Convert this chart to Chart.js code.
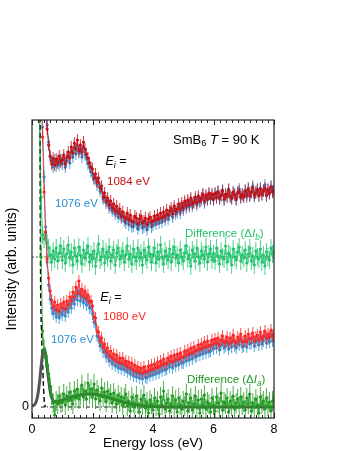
<!DOCTYPE html>
<html>
<head>
<meta charset="utf-8">
<script src="https://cdn.jsdelivr.net/npm/chart.js@4.4.1/dist/chart.umd.min.js"></script>
<style>
  html, body { margin: 0; padding: 0; background: #fff; }
</style>
</head>
<body>
<canvas id="rixs" width="349" height="451"></canvas>
<script>
// energy loss grid (eV)
const energy = [
  0.25, 0.3, 0.35, 0.4, 0.45, 0.5, 0.55, 0.6, 0.65, 0.7, 0.75, 0.8, 0.85, 0.9, 0.95,
  1, 1.05, 1.1, 1.15, 1.2, 1.25, 1.3, 1.35, 1.4, 1.45, 1.5, 1.55, 1.6, 1.65, 1.7, 1.75, 1.8, 1.85, 1.9, 1.95,
  2, 2.05, 2.1, 2.15, 2.2, 2.25, 2.3, 2.35, 2.4, 2.45, 2.5, 2.55, 2.6, 2.65, 2.7, 2.75, 2.8, 2.85, 2.9, 2.95,
  3, 3.05, 3.1, 3.15, 3.2, 3.25, 3.3, 3.35, 3.4, 3.45, 3.5, 3.55, 3.6, 3.65, 3.7, 3.75, 3.8, 3.85, 3.9, 3.95,
  4, 4.05, 4.1, 4.15, 4.2, 4.25, 4.3, 4.35, 4.4, 4.45, 4.5, 4.55, 4.6, 4.65, 4.7, 4.75, 4.8, 4.85, 4.9, 4.95,
  5, 5.05, 5.1, 5.15, 5.2, 5.25, 5.3, 5.35, 5.4, 5.45, 5.5, 5.55, 5.6, 5.65, 5.7, 5.75, 5.8, 5.85, 5.9, 5.95,
  6, 6.05, 6.1, 6.15, 6.2, 6.25, 6.3, 6.35, 6.4, 6.45, 6.5, 6.55, 6.6, 6.65, 6.7, 6.75, 6.8, 6.85, 6.9, 6.95,
  7, 7.05, 7.1, 7.15, 7.2, 7.25, 7.3, 7.35, 7.4, 7.45, 7.5, 7.55, 7.6, 7.65, 7.7, 7.75, 7.8, 7.85, 7.9, 7.95,
  8
];

// upper pair, Ei = 1084 eV and 1076 eV (offset spectra)
const ei1084 = [
  null, null, null, null, 31, 27.8, 26.2, 25.1, 24.3, 24.9, 24.2, 24.8, 24.4, 25.1, 24.5,
  24.7, 25.2, 24.3, 25.0, 25.5, 24.9, 26.0, 25.4, 26.4, 25.8, 26.7, 25.6, 26.2, 25.5, 26.5, 25.8, 25.3, 24.9, 24.4, 24.0,
  23.8, 22.9, 23.3, 22.5, 22.9, 21.9, 22.1, 21.0, 21.4, 20.6, 20.9, 20.2, 20.6, 19.9, 20.3, 19.6, 20.1, 19.4, 19.8, 19.1,
  19.5, 19.0, 18.8, 19.4, 18.7, 19.2, 18.6, 18.5, 19.1, 18.9, 18.3, 18.8, 19.1, 18.4, 18.6, 18.9, 18.2, 18.8, 19.0, 18.5,
  18.6, 19.1, 18.7, 19.2, 18.8, 19.4, 18.9, 19.5, 19.0, 19.7, 19.2, 19.6, 19.9, 19.3, 20.1, 19.6, 19.8, 20.3, 19.7, 20.4,
  19.9, 20.6, 20.1, 20.7, 20.2, 20.9, 20.3, 20.5, 21.0, 20.4, 21.1, 20.6, 20.9, 21.3, 20.6, 21.2, 20.8, 21.4, 20.9, 21.3,
  20.8, 21.4, 21.0, 21.5, 20.9, 21.2, 21.6, 20.8, 21.3, 21.0, 21.7, 21.1, 20.9, 21.5, 21.2, 20.8, 21.4, 21.6, 21.0, 21.3,
  21.0, 21.6, 21.2, 21.8, 21.1, 21.5, 21.9, 21.2, 21.4, 21.7, 21.1, 21.8, 21.3, 21.6, 21.9, 21.2, 21.7, 21.4, 22.0, 21.5,
  21.6
];
const ei1076b = [
  null, null, null, null, 30, 28.2, 26.5, 25.0, 24.6, 24.0, 24.7, 24.1, 24.6, 24.2, 24.8,
  24.3, 24.9, 24.0, 24.6, 25.1, 24.4, 25.6, 25.0, 25.9, 25.3, 26.1, 25.4, 25.8, 25.0, 26.0, 25.2, 24.9, 24.3, 24.0, 23.5,
  23.2, 22.8, 22.9, 22.2, 22.5, 21.6, 21.8, 20.8, 21.0, 20.4, 20.6, 19.9, 20.2, 19.6, 19.8, 19.3, 19.6, 19.0, 19.3, 18.9,
  19.1, 18.6, 18.4, 18.9, 18.2, 18.7, 18.0, 18.1, 18.5, 18.3, 17.8, 18.2, 18.5, 17.9, 18.0, 18.4, 17.7, 18.3, 18.5, 18.0,
  18.2, 18.6, 18.3, 18.8, 18.4, 18.9, 18.5, 19.1, 18.7, 19.3, 18.8, 19.2, 19.6, 19.0, 19.8, 19.3, 19.5, 20.0, 19.4, 20.1,
  19.7, 20.4, 19.9, 20.5, 20.0, 20.7, 20.1, 20.4, 20.8, 20.2, 20.9, 20.5, 20.7, 21.2, 20.4, 21.0, 20.7, 21.3, 20.8, 21.2,
  20.7, 21.3, 20.9, 21.6, 20.8, 21.1, 21.7, 20.7, 21.2, 21.1, 21.8, 21.0, 20.8, 21.4, 21.3, 20.7, 21.5, 21.8, 20.9, 21.2,
  21.1, 21.7, 21.0, 21.9, 21.2, 21.4, 22.1, 21.0, 21.5, 21.8, 21.2, 21.9, 21.2, 21.7, 22.2, 21.1, 21.8, 21.3, 22.1, 21.6,
  21.8
];
// difference ΔI_b (offset so that zero sits at 15)
const diffB = [
  30, 21, 17.2, 16.8, 17.4, 16.4, 15.9, 15.2, 14.5, 15.6, 14.8, 15.9, 14.6, 15.4, 16.1,
  14.7, 15.8, 14.4, 15.3, 16.2, 14.9, 15.5, 14.2, 15.9, 15.1, 14.6, 16.0, 15.2, 14.3, 15.7, 14.9, 15.4, 16.1, 14.5, 15.2,
  14.8, 15.6, 14.1, 15.3, 16.3, 14.7, 15.0, 15.8, 14.4, 15.5, 14.9, 16.0, 14.6, 15.2, 15.7, 14.2, 15.4, 15.9, 14.8, 15.1,
  15.6, 14.5, 15.2, 16.1, 14.8, 15.3, 14.3, 15.8, 15.0, 14.6, 15.9, 14.9, 15.4, 14.2, 15.7, 15.1, 14.7, 16.0, 15.3, 14.5,
  15.2, 15.9, 14.4, 15.5, 14.8, 16.2, 15.0, 14.3, 15.6, 15.1, 14.7, 15.8, 14.5, 15.3, 16.0, 14.9, 15.2, 14.4, 15.7, 15.0,
  14.6, 15.4, 16.1, 14.8, 15.2, 14.1, 15.7, 15.3, 14.6, 15.9, 15.0, 14.4, 15.6, 15.2, 14.8, 16.0, 14.5, 15.3, 15.8, 14.7,
  15.3, 14.6, 15.9, 15.1, 14.3, 15.6, 15.0, 14.8, 16.1, 14.5, 15.4, 15.2, 14.2, 15.8, 15.0, 14.7, 15.5, 16.0, 14.6, 15.2,
  14.9, 15.7, 14.4, 15.3, 15.9, 14.6, 15.1, 14.2, 15.6, 15.0, 14.8, 15.8, 14.5, 15.2, 14.1, 15.5, 15.0, 14.7, 15.9, 15.3,
  15.6
];

// lower pair, Ei = 1080 eV and 1076 eV
const ei1080 = [
  null, 31, 27, 21.5, 17.5, 14.8, 12.9, 11.6, 10.7, 10.0, 10.5, 9.7, 10.2, 9.6, 10.3,
  9.9, 10.5, 9.8, 10.6, 10.2, 11.0, 10.6, 11.5, 11.0, 12.0, 11.4, 12.6, 11.3, 11.8, 11.1, 11.6, 10.9, 11.2, 10.5, 10.6,
  10.1, 9.0, 8.9, 7.6, 7.5, 6.6, 6.9, 6.0, 6.3, 5.5, 5.9, 5.1, 5.6, 4.9, 5.3, 4.7, 5.2, 4.5, 4.9, 4.4,
  4.9, 4.3, 4.6, 4.1, 4.5, 3.9, 4.4, 3.7, 4.2, 3.6, 4.0, 3.5, 3.9, 3.4, 4.0, 3.6, 3.5, 4.1, 3.7, 4.2,
  3.8, 4.3, 3.9, 4.5, 4.0, 4.6, 4.2, 4.8, 4.3, 4.4, 4.9, 4.6, 5.1, 4.5, 5.2, 4.7, 5.3, 4.8, 5.4, 5.0,
  5.0, 5.6, 5.2, 5.7, 5.3, 5.9, 5.4, 6.0, 5.6, 5.7, 6.2, 5.8, 6.3, 5.9, 6.5, 6.0, 6.6, 6.1, 6.2, 6.7,
  6.3, 6.8, 6.4, 6.9, 6.2, 6.7, 7.1, 6.4, 6.6, 7.0, 6.3, 6.9, 6.5, 7.2, 6.6, 6.4, 7.0, 6.7, 7.3, 6.5,
  6.6, 7.1, 6.5, 7.3, 6.8, 6.9, 7.4, 6.6, 7.0, 7.2, 6.7, 7.5, 6.8, 7.1, 7.6, 6.9, 7.3, 7.0, 7.7, 7.1,
  7.3
];
const ei1076a = [
  null, null, 28, 23, 18, 14.5, 12.2, 10.8, 9.9, 9.3, 9.8, 9.0, 9.6, 8.9, 9.5,
  9.2, 9.8, 9.1, 9.9, 9.5, 10.3, 9.9, 10.8, 10.3, 11.2, 10.7, 11.6, 10.6, 11.1, 10.4, 10.9, 10.2, 10.6, 9.9, 10.0,
  9.3, 8.5, 8.3, 7.1, 6.9, 6.1, 6.3, 5.5, 5.7, 5.0, 5.3, 4.6, 5.0, 4.3, 4.7, 4.1, 4.5, 3.9, 4.3, 3.8,
  4.2, 3.7, 4.0, 3.5, 3.9, 3.3, 3.7, 3.1, 3.5, 3.0, 3.4, 2.9, 3.3, 2.8, 3.4, 3.0, 2.9, 3.5, 3.1, 3.6,
  3.2, 3.7, 3.3, 3.9, 3.4, 4.0, 3.6, 4.2, 3.7, 3.8, 4.3, 4.0, 4.5, 3.9, 4.6, 4.1, 4.7, 4.2, 4.8, 4.4,
  4.4, 5.0, 4.6, 5.1, 4.7, 5.3, 4.8, 5.4, 5.0, 5.1, 5.6, 5.2, 5.7, 5.3, 5.9, 5.4, 6.0, 5.5, 5.6, 6.1,
  5.8, 6.3, 5.9, 6.4, 5.7, 6.2, 6.6, 5.9, 6.1, 6.5, 5.8, 6.4, 6.0, 6.7, 6.1, 5.9, 6.5, 6.2, 6.8, 6.0,
  6.1, 6.6, 6.0, 6.8, 6.3, 6.4, 6.9, 6.1, 6.5, 6.7, 6.2, 7.0, 6.3, 6.6, 7.1, 6.4, 6.8, 6.5, 7.2, 6.6,
  6.8
];
// difference ΔI_a (true zero)
const diffA = [
  30, 15, 7.6, 5.8, 5.0, 4.2, 3.3, 2.0, 1.2, 0.4, -0.8, 0.6, 0.3, 1.1, 0.4,
  0.5, 1.3, 0.2, 1.1, 0.6, 1.5, 0.7, 0.3, 1.6, 0.9, 1.8, 0.8, 1.2, 2.2, 1.0, 1.6, 0.8, 2.4, 1.3, 1.8,
  1.0, 2.3, 0.8, 1.7, 1.2, 0.6, 1.9, 1.0, 1.5, 0.5, 1.6, 0.9, 1.3, 0.4, 1.4, 0.8, 0.3, 1.2, 0.5, 1.0,
  0.2, 0.9, 1.3, 0.1, 0.6, -0.4, 1.0, 0.4, 0.0, 1.1, 0.3, -0.5, 0.8, 0.2, 1.2, -0.1, 0.5, -0.6, 0.7, 0.3,
  -0.3, 0.9, 0.1, 0.6, -0.7, 1.0, 0.2, 1.6, -0.2, 0.4, 0.8, -0.4, 0.3, 1.1, 0.0, 0.7, -0.5, 0.9, 0.2, -0.2,
  0.6, 0.1, 1.3, -0.4, 0.4, 0.9, -0.3, 0.3, 1.1, 0.0, 0.7, -0.6, 0.8, 0.2, 1.2, -0.2, 0.5, 0.3, -0.5, 0.9,
  0.2, -0.4, 1.0, 0.4, 0.0, 1.4, -0.3, 0.5, 0.3, 0.9, -0.5, 0.6, 0.1, 1.1, -0.2, 0.4, 0.8, 0.0, 1.0, 0.2,
  0.5, -0.3, 0.9, 0.3, 1.3, -0.4, 0.4, 0.0, 0.8, 0.2, -0.6, 1.0, 0.3, 0.6, -0.2, 0.9, 0.1, 0.5, -0.4, 0.6,
  1.0
];

// fit to ΔI_a (grey curve)
const fitE = [0, 0.05, 0.1, 0.15, 0.2, 0.25, 0.3, 0.35, 0.4, 0.45, 0.5, 0.55, 0.6, 0.65, 0.7, 0.75, 0.8, 0.9,
  1, 1.2, 1.4, 1.6, 1.8, 2, 2.2, 2.4, 2.6, 2.8, 3, 3.2, 3.4, 3.6, 3.8, 4, 4.5, 5, 6, 7, 8];
const fitI = [0.08, 0.15, 0.3, 0.65, 1.35, 2.5, 4.0, 5.3, 5.8, 5.3, 4.05, 2.75, 1.6, 0.95, 0.65, 0.5, 0.5, 0.58,
  0.69, 0.89, 1.07, 1.21, 1.29, 1.29, 1.21, 1.07, 0.89, 0.69, 0.5, 0.35, 0.22, 0.14, 0.08, 0.04, 0.01, 0, 0, 0, 0];

// elastic line (black dashed)
const elasticE = [0.265, 0.275, 0.29, 0.32, 0.35, 0.38, 0.4, 0.42, 0.45];
const elasticI = [29, 18, 10.5, 7, 4.5, 2, 0.8, 0.2, 0];

// zero lines for the two difference spectra
const zeroBE = [0, 8], zeroBI = [15, 15];
const zeroAE = [0.3, 8], zeroAI = [0, 0];

const colors = {
  red84: '#c80f14',
  red80: '#ff2424',
  blue: '#2a8fd6',
  greenB: '#20c46c',
  greenA: '#1f9a1f',
  fit: '#555555'
};

function pts(xs, ys) {
  return xs.map((x, i) => ({ x: x, y: ys[i] }));
}

function spectrum(label, ys, color, err) {
  return {
    label: label,
    data: pts(energy, ys),
    borderColor: color,
    backgroundColor: color,
    borderWidth: 0.8,
    pointRadius: 1.6,
    pointBorderWidth: 0,
    errorBar: err,
    spanGaps: false
  };
}

// vertical error bars, drawn under each spectrum
const errorBars = {
  id: 'errorBars',
  beforeDatasetDraw(chart, args) {
    const ds = chart.data.datasets[args.index];
    if (!ds.errorBar) return;
    const { ctx, chartArea: a, scales: { x, y } } = chart;
    ctx.save();
    ctx.beginPath();
    ctx.rect(a.left, a.top, a.right - a.left, a.bottom - a.top);
    ctx.clip();
    ctx.strokeStyle = ds.borderColor;
    ctx.lineWidth = 0.8;
    ctx.beginPath();
    ds.data.forEach(p => {
      if (p.y == null) return;
      const px = x.getPixelForValue(p.x);
      ctx.moveTo(px, y.getPixelForValue(p.y - ds.errorBar));
      ctx.lineTo(px, y.getPixelForValue(p.y + ds.errorBar));
    });
    ctx.stroke();
    ctx.restore();
  }
};

// box frame + inward minor/major ticks on top and bottom
const frameTicks = {
  id: 'frameTicks',
  afterDatasetsDraw(chart) {
    const { ctx, chartArea: a, scales: { x } } = chart;
    ctx.save();
    ctx.strokeStyle = '#222';
    ctx.lineWidth = 1.2;
    ctx.strokeRect(a.left, a.top, a.right - a.left, a.bottom - a.top);
    ctx.lineWidth = 1;
    ctx.beginPath();
    for (let i = 0; i <= 40; i++) {
      const px = Math.round(x.getPixelForValue(i * 0.2)) + 0.5;
      const len = i % 10 === 0 ? 5 : 3;
      ctx.moveTo(px, a.bottom);
      ctx.lineTo(px, a.bottom - len);
      ctx.moveTo(px, a.top);
      ctx.lineTo(px, a.top + len);
    }
    ctx.stroke();
    ctx.restore();
  }
};

// text labels inside the plot (placed in data units)
const notes = [
  { x: 4.66, y: 26.7, size: 13, color: '#000', runs: [['SmB'], ['6', 'sub'], [' '], ['T', 'it'], [' = 90 K']] },
  { x: 2.43, y: 24.5, size: 12.5, color: '#000', runs: [['E', 'it'], ['i', 'subit'], [' =']] },
  { x: 2.48, y: 22.5, size: 11.5, color: colors.red84, runs: [['1084 eV']] },
  { x: 0.76, y: 20.3, size: 11.5, color: colors.blue, runs: [['1076 eV']] },
  { x: 5.06, y: 17.3, size: 11.5, color: colors.greenB, runs: [['Difference (Δ'], ['I', 'it'], ['b', 'subit'], [')']] },
  { x: 2.26, y: 10.9, size: 12.5, color: '#000', runs: [['E', 'it'], ['i', 'subit'], [' =']] },
  { x: 2.35, y: 9.0, size: 11.5, color: colors.red80, runs: [['1080 eV']] },
  { x: 0.63, y: 6.7, size: 11.5, color: colors.blue, runs: [['1076 eV']] },
  { x: 5.12, y: 2.7, size: 11.5, color: colors.greenA, runs: [['Difference (Δ'], ['I', 'it'], ['a', 'subit'], [')']] }
];

const fam = '"Liberation Sans", Arial, Helvetica, sans-serif';

const textNotes = {
  id: 'textNotes',
  afterDraw(chart) {
    const { ctx, scales: { x, y } } = chart;
    ctx.save();
    ctx.textBaseline = 'middle';
    ctx.textAlign = 'left';
    notes.forEach(n => {
      let px = x.getPixelForValue(n.x);
      const py = y.getPixelForValue(n.y);
      ctx.fillStyle = n.color;
      n.runs.forEach(([t, st]) => {
        const sub = st === 'sub' || st === 'subit';
        const it = st === 'it' || st === 'subit';
        const size = sub ? n.size * 0.72 : n.size;
        ctx.font = (it ? 'italic ' : '') + size + 'px ' + fam;
        ctx.fillText(t, px, sub ? py + n.size * 0.3 : py);
        px += ctx.measureText(t).width;
      });
    });
    ctx.restore();
  }
};

Chart.defaults.font.family = fam;
Chart.defaults.color = '#000';

new Chart(document.getElementById('rixs'), {
  type: 'line',
  data: {
    datasets: [
      spectrum('ΔIa', diffA, colors.greenA, 1.0),
      {
        label: 'fit', data: pts(fitE, fitI), borderColor: colors.fit, borderWidth: 3,
        pointRadius: 0, tension: 0.4, cubicInterpolationMode: 'monotone'
      },
      {
        label: 'elastic', data: pts(elasticE, elasticI), borderColor: '#000', borderWidth: 1.4,
        borderDash: [5, 3], pointRadius: 0, tension: 0.3
      },
      spectrum('1080 eV', ei1080, colors.red80, 0.6),
      spectrum('1076 eV (a)', ei1076a, colors.blue, 0.6),
      spectrum('ΔIb', diffB, colors.greenB, 0.9),
      spectrum('1084 eV', ei1084, colors.red84, 0.6),
      spectrum('1076 eV (b)', ei1076b, colors.blue, 0.6),
      {
        label: 'zero b', data: pts(zeroBE, zeroBI), borderColor: '#777', borderWidth: 1.2,
        borderDash: [2, 2], pointRadius: 0
      },
      {
        label: 'zero a', data: pts(zeroAE, zeroAI), borderColor: '#111', borderWidth: 1,
        borderDash: [4, 2, 1, 2], pointRadius: 0
      }
    ]
  },
  options: {
    responsive: false,
    devicePixelRatio: 1,
    animation: false,
    layout: { padding: { left: 0, top: 120, right: 75, bottom: 0 } },
    plugins: { legend: { display: false }, tooltip: { enabled: false } },
    scales: {
      x: {
        type: 'linear',
        min: 0,
        max: 8,
        grid: { display: false, drawTicks: false },
        border: { display: false },
        ticks: { stepSize: 2, padding: 4, font: { size: 12.5 }, maxRotation: 0 },
        title: { display: true, text: 'Energy loss (eV)', font: { size: 13.5 }, padding: 0 },
        afterFit(scale) { scale.height = 33; }
      },
      y: {
        type: 'linear',
        min: -1.1,
        max: 28.7,
        grid: { display: false, drawTicks: false },
        border: { display: false },
        ticks: { padding: 3, font: { size: 12.5 } },
        afterBuildTicks(scale) { scale.ticks = [{ value: 0 }]; },
        title: { display: true, text: 'Intensity (arb. units)', font: { size: 14 }, padding: { top: 4, bottom: 0 } },
        afterFit(scale) { scale.width = 32; }
      }
    }
  },
  plugins: [errorBars, frameTicks, textNotes]
});
</script>
</body>
</html>
